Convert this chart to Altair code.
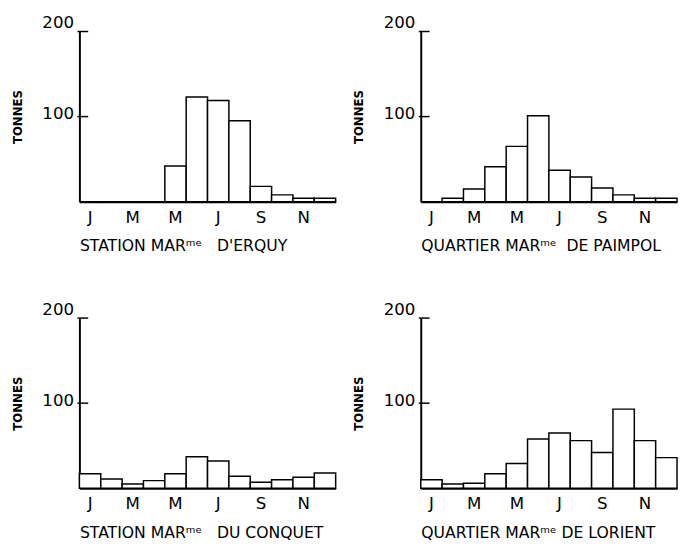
import altair as alt
import pandas as pd

months = list(range(1, 13))
month_letters = ["J", "F", "M", "A", "M", "J", "J", "A", "S", "O", "N", "D"]
label_months = [1, 3, 5, 7, 9, 11]
y_ticks = [100, 200]

erquy = [0, 0, 0, 0, 42, 123, 119, 95, 18, 8, 4, 4]
paimpol = [0, 4, 15, 41, 65, 101, 37, 29, 16, 8, 4, 4]
conquet = [17, 11, 5, 9, 17, 37, 32, 14, 7, 10, 13, 18]
lorient = [10, 5, 6, 17, 29, 58, 65, 56, 42, 93, 56, 36]

NB = "\u00a0"
titles = [
    f"STATION MARᵐᵉ{NB}{NB}{NB}D'ERQUY",
    f"QUARTIER MARᵐᵉ{NB}{NB}DE PAIMPOL",
    f"STATION{NB}MARᵐᵉ{NB}{NB}{NB}DU CONQUET",
    "QUARTIER MARᵐᵉ DE LORIENT",
]

W, H = 262, 174
FONT = "DejaVu Sans"
label_expr = "[" + ",".join(f"'{m}'" for m in month_letters) + "][datum.value - 1]"

y_axis = alt.Axis(
    values=y_ticks, ticks=False, grid=False, labelFontSize=17, labelPadding=6,
    labelBaseline="middle",
    labelOffset={"condition": {"test": "datum.value === 200", "value": -9}, "value": -3},
    title="TONNES", titleFontSize=12, titleFontWeight="bold", titlePadding=18,
    domainColor="black", domainWidth=2, labelColor="black", titleColor="black",
    labelFont=FONT, titleFont=FONT,
)
y_scale = alt.Scale(domain=[0, 200], nice=False)


def panel(values, title):
    df = pd.DataFrame({"month": months, "tonnes": values})
    tk = pd.DataFrame({"tonnes": y_ticks})
    bars = alt.Chart(df).mark_bar(fill="white", stroke="black", strokeWidth=1.5).encode(
        x=alt.X(
            "month:O",
            scale=alt.Scale(paddingInner=0, paddingOuter=0),
            axis=alt.Axis(
                values=label_months, labelExpr=label_expr, labelAngle=0, ticks=False,
                labelFontSize=17, labelPadding=8, title=title, titleAnchor="start",
                titleFontSize=16, titleFontWeight="normal", titlePadding=13,
                domainColor="black", domainWidth=2, labelColor="black", titleColor="black",
                labelFont=FONT, titleFont=FONT,
            ),
        ),
        y=alt.Y("tonnes:Q", scale=y_scale, axis=y_axis),
    )
    rules = alt.Chart(tk).mark_rule(color="black", strokeWidth=1.5).encode(
        y=alt.Y("tonnes:Q", scale=y_scale, axis=y_axis), x=alt.value(-2), x2=alt.value(9)
    )
    return alt.layer(bars, rules).properties(width=W, height=H)


p1 = panel(erquy, titles[0])
p2 = panel(paimpol, titles[1])
p3 = panel(conquet, titles[2])
p4 = panel(lorient, titles[3])

chart = alt.hconcat(
    alt.vconcat(p1, p3, spacing=48),
    alt.vconcat(p2, p4, spacing=48),
    spacing=16,
).properties(
    padding={"left": 3, "top": 0, "right": 0, "bottom": 0},
    background="white",
).configure_view(stroke=None)

chart.save("out.html", embed_options={"renderer": "svg", "actions": False})
